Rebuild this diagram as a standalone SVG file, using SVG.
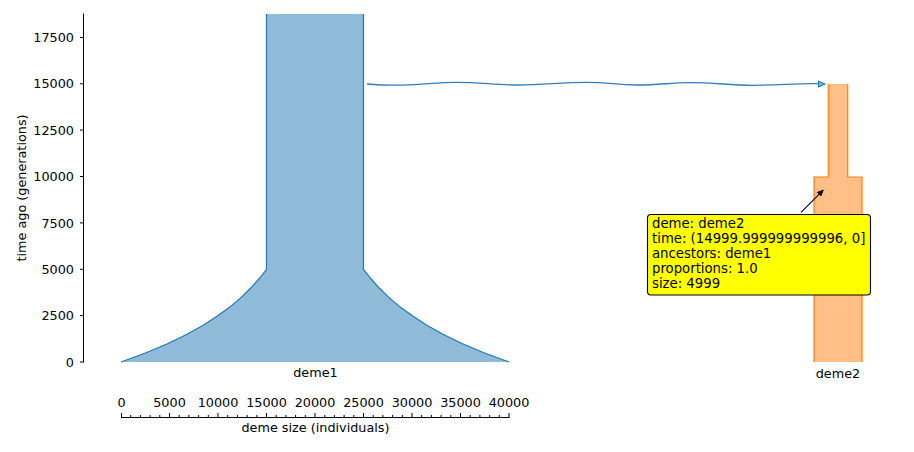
<svg xmlns="http://www.w3.org/2000/svg" width="914" height="452" viewBox="0 0 914 452">
<style>
text{font-family:"DejaVu Sans",sans-serif;fill:#000}
.tk{font-size:12.8px}
.axl{font-size:12.8px}
.tip{font-size:13.25px}
.ax{stroke:#000;stroke-width:1;fill:none}
</style>
<rect width="914" height="452" fill="#fff"/>
<g id="y-axis">
<path class="ax" d="M83.5,13.5 V362.5"/>
<path class="ax" d="M80,362 H83.5 M80,315.6 H83.5 M80,269.3 H83.5 M80,222.9 H83.5 M80,176.5 H83.5 M80,130.1 H83.5 M80,83.8 H83.5 M80,37.4 H83.5"/>
<g class="tk" text-anchor="end">
<text x="74" y="366.6">0</text>
<text x="74" y="320.2">2500</text>
<text x="74" y="273.9">5000</text>
<text x="74" y="227.5">7500</text>
<text x="74" y="181.1">10000</text>
<text x="74" y="134.7">12500</text>
<text x="74" y="88.4">15000</text>
<text x="74" y="42">17500</text>
</g>
<text class="axl" text-anchor="middle" transform="translate(25.5,188) rotate(-90)">time ago (generations)</text>
</g>
<g id="x-axis">
<path class="ax" d="M121,417.5 H509.5"/>
<path class="ax" d="M121.5,413 V417.5 M169.5,413 V417.5 M218,413 V417.5 M266.5,413 V417.5 M315,413 V417.5 M363.5,413 V417.5 M412,413 V417.5 M460.5,413 V417.5 M509,413 V417.5"/>
<path class="ax" d="M130.7,415 V417 M140.4,415 V417 M150.1,415 V417 M159.8,415 V417 M179.2,415 V417 M188.9,415 V417 M198.6,415 V417 M208.3,415 V417 M227.7,415 V417 M237.4,415 V417 M247.1,415 V417 M256.8,415 V417 M276.2,415 V417 M285.9,415 V417 M295.6,415 V417 M305.3,415 V417 M324.7,415 V417 M334.4,415 V417 M344.1,415 V417 M353.8,415 V417 M373.2,415 V417 M382.9,415 V417 M392.6,415 V417 M402.3,415 V417 M421.7,415 V417 M431.4,415 V417 M441.1,415 V417 M450.8,415 V417 M470.2,415 V417 M479.9,415 V417 M489.6,415 V417 M499.3,415 V417"/>
<g class="tk" text-anchor="middle">
<text x="121.5" y="406.5">0</text>
<text x="169.5" y="406.5">5000</text>
<text x="218" y="406.5">10000</text>
<text x="266.5" y="406.5">15000</text>
<text x="315" y="406.5">20000</text>
<text x="363.5" y="406.5">25000</text>
<text x="412" y="406.5">30000</text>
<text x="460.5" y="406.5">35000</text>
<text x="509" y="406.5">40000</text>
</g>
<text class="axl" x="315.5" y="431.5" text-anchor="middle">deme size (individuals)</text>
</g>
<g id="deme1">
<path fill="#8fbbd9" stroke="none" d="M121,362 L146.1,352.7 L168,343.45 L187,334.2 L203.6,324.9 L218,315.6 L230.6,306.4 L241.5,297.1 L251,287.8 L259.3,278.5 L266.5,269.3 L266.5,14 L363.5,14 L363.5,269.3 L370.7,278.5 L379,287.8 L388.5,297.1 L399.4,306.4 L412,315.6 L426.4,324.9 L443,334.2 L462,343.45 L483.9,352.7 L509,362 Z"/>
<path fill="none" stroke="#1f77b4" stroke-width="1.2" stroke-linejoin="round" d="M121,362 L146.1,352.7 L168,343.45 L187,334.2 L203.6,324.9 L218,315.6 L230.6,306.4 L241.5,297.1 L251,287.8 L259.3,278.5 L266.5,269.3 L266.5,14"/>
<path fill="none" stroke="#1f77b4" stroke-width="1.2" stroke-linejoin="round" d="M363.5,14 L363.5,269.3 L370.7,278.5 L379,287.8 L388.5,297.1 L399.4,306.4 L412,315.6 L426.4,324.9 L443,334.2 L462,343.45 L483.9,352.7 L509,362"/>
<text class="tk" x="315.5" y="377" text-anchor="middle">deme1</text>
</g>
<g id="deme2">
<path fill="#ffbf86" stroke="none" d="M814,362 L814,177 L828.3,177 L828.3,84 L847.7,84 L847.7,177 L862,177 L862,362 Z"/>
<path fill="none" stroke="#ff7f0e" stroke-width="1.2" d="M814,362 L814,177 L828.3,177 L828.3,84 M847.7,84 L847.7,177 L862,177 L862,362"/>
<text class="tk" x="838" y="377.5" text-anchor="middle">deme2</text>
</g>
<g id="connectors">
<path fill="none" stroke="#2f7fba" stroke-width="1.3" d="M367,84 C377,84.8 385,85.2 393,85.2 C420,85.2 435,82.3 457,82.3 C480,82.3 495,85 517,85 C545,85 560,82.3 587,82.3 C610,82.3 615,85 637,85 C660,85 670,82.6 690,82.6 C715,82.6 730,85.3 753,85.3 C780,85.3 795,83.2 819,83.6"/>
<polygon points="818.5,81.2 824.8,84 818.5,86.8" fill="#8fbbd9" stroke="#1f77b4" stroke-width="1.1" stroke-linejoin="miter"/>
<path d="M801,212.3 L819.5,193.8" stroke="#000" stroke-width="1.1" fill="none"/>
<polygon points="823.3,190 820.9,196 817.3,192.4" fill="#000" stroke="#000" stroke-width="0.8"/>
</g>
<g id="tooltip">
<rect x="647.5" y="214.5" width="223" height="80.5" rx="3.5" ry="3.5" fill="#ffff00" stroke="#000" stroke-width="1.1"/>
<g class="tip">
<text x="652" y="228.3">deme: deme2</text>
<text x="652" y="243.1">time: (14999.999999999996, 0]</text>
<text x="652" y="257.9">ancestors: deme1</text>
<text x="652" y="272.7">proportions: 1.0</text>
<text x="652" y="287.5">size: 4999</text>
</g>
</g>
</svg>
